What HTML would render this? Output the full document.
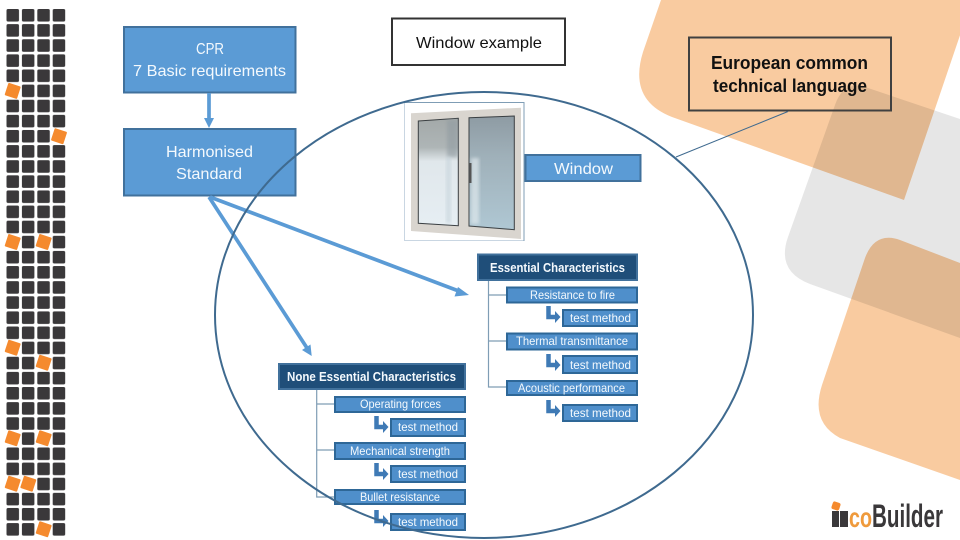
<!DOCTYPE html>
<html><head><meta charset="utf-8"><style>
html,body{margin:0;padding:0;background:#fff}
svg{display:block}
text{font-family:"Liberation Sans",sans-serif;fill:#f4f9fd}
.b{fill:#5b9bd5;stroke:#41719c;stroke-width:2}
.s{fill:#4f8fcb;stroke:#2e6797;stroke-width:2}
.d{fill:#1f4e79;stroke:#41719c;stroke-width:2}
.t14{font-size:16px}
.t10{font-size:12px}
.h{font-size:12.5px;font-weight:bold}
.k{fill:#111}
.c{fill:none;stroke:#7f9db5;stroke-width:1.2}
.a{fill:none;stroke:#5b9bd5;stroke-width:3.7}
.l{fill:none;stroke:#3f7ab5;stroke-width:4.5}
</style></head><body>
<svg xmlns="http://www.w3.org/2000/svg" width="960" height="540" viewBox="0 0 960 540">
<defs>
<pattern id="g" x="6.5" y="9" width="15.4" height="15.12" patternUnits="userSpaceOnUse"><rect x="0" y="0" width="12.5" height="12.6" rx="1.6" fill="#3a383a"/></pattern>
<linearGradient id="lp" x1="0" y1="0" x2="0" y2="1"><stop offset="0" stop-color="#a3a9a9"/><stop offset=".27" stop-color="#aeb5b6"/><stop offset=".4" stop-color="#e0e7eb"/><stop offset="1" stop-color="#e6eef3"/></linearGradient>
<linearGradient id="rp" x1="0" y1="0" x2="0" y2="1"><stop offset="0" stop-color="#8e9ba3"/><stop offset=".35" stop-color="#9fb0b9"/><stop offset="1" stop-color="#afc7d3"/></linearGradient>
<filter id="bl" x="-20%" y="-20%" width="140%" height="140%"><feGaussianBlur stdDeviation="1.5"/></filter>
</defs>

<g style="isolation:isolate">
<path d="M661,0 L643,52 Q628,100 672,117 L904,200 L972,0 Z" fill="#f9cba0"/>
<path d="M960,119 L868,88 Q844,79 835,105 L788,237 Q776,271 810,284 L960,338 Z" fill="#e6e6e6" style="mix-blend-mode:multiply"/>
<path d="M900,240 Q875,231 865,258 L822,385 Q810,422 840,438 L960,480 L960,263 Z" fill="#f9cba0" style="mix-blend-mode:multiply"/>
</g>

<rect x="6" y="8" width="62" height="530" fill="url(#g)"/>
<g fill="#fff">
<rect x="5.5" y="84" width="14" height="14"/>
<rect x="52" y="129" width="14" height="14"/>
<rect x="5.5" y="235" width="14" height="14"/>
<rect x="36.500" y="235" width="14" height="14"/>
<rect x="5.5" y="341" width="14" height="14"/>
<rect x="36.500" y="356" width="14" height="14"/>
<rect x="5.5" y="431" width="14" height="14"/>
<rect x="36.500" y="431" width="14" height="14"/>
<rect x="5.5" y="477" width="14" height="14"/>
<rect x="21" y="477" width="14" height="14"/>
<rect x="36.500" y="522" width="14" height="14"/>
</g>
<g fill="#f58a2e">
<rect x="6.2" y="84.4" width="13" height="13" rx="1" transform="rotate(18 12.7 90.9)"/>
<rect x="52.5" y="129.7" width="13" height="13" rx="1" transform="rotate(18 59 136.2)"/>
<rect x="6.2" y="235.5" width="13" height="13" rx="1" transform="rotate(18 12.7 242)"/>
<rect x="37.2" y="235.5" width="13" height="13" rx="1" transform="rotate(18 43.7 242)"/>
<rect x="6.2" y="341.2" width="13" height="13" rx="1" transform="rotate(18 12.7 347.7)"/>
<rect x="37.2" y="356.2" width="13" height="13" rx="1" transform="rotate(18 43.7 362.7)"/>
<rect x="6.2" y="431.8" width="13" height="13" rx="1" transform="rotate(18 12.7 438.3)"/>
<rect x="37.2" y="431.8" width="13" height="13" rx="1" transform="rotate(18 43.7 438.3)"/>
<rect x="6.2" y="477.2" width="13" height="13" rx="1" transform="rotate(18 12.7 483.7)"/>
<rect x="21.8" y="477.2" width="13" height="13" rx="1" transform="rotate(18 28.3 483.7)"/>
<rect x="37.2" y="522.8" width="13" height="13" rx="1" transform="rotate(18 43.7 529.3)"/>
</g>

<!-- window picture -->
<rect x="404.5" y="102.5" width="119.5" height="138" fill="#fff" stroke="#c9d6e2" stroke-width="1"/>
<path d="M404.5,102.5H524V241" fill="none" stroke="#7f9db5" stroke-width="1"/>
<polygon points="411,113.3 521,107.7 521,239 411,231" fill="#d9d5cf"/>
<polygon points="418.3,121 458.3,118.3 458.3,225.7 418.3,223.3" fill="url(#lp)" stroke="#3a3f42" stroke-width="1"/>
<rect x="447" y="120" width="10.5" height="37" fill="#8f9aa0" opacity=".55" filter="url(#bl)"/>
<rect x="446" y="157" width="5" height="66" fill="#c4d2da" opacity=".6" filter="url(#bl)"/>
<polygon points="469,117.7 514.3,116 514.3,229.7 469,226" fill="url(#rp)" stroke="#3a3f42" stroke-width="1"/>
<rect x="471" y="158" width="8" height="66" fill="#dfe8ec" opacity=".7" filter="url(#bl)"/>
<rect x="469.5" y="163" width="2" height="20" fill="#555"/>

<!-- boxes -->
<rect class="b" x="124" y="27" width="171.5" height="65.5"/>
<text class="t14" x="196" y="54" textLength="28" lengthAdjust="spacingAndGlyphs">CPR</text>
<text class="t14" x="133" y="76" textLength="153" lengthAdjust="spacingAndGlyphs">7 Basic requirements</text>
<rect class="b" x="124" y="129" width="171.5" height="66.5"/>
<text class="t14" x="166" y="157" textLength="87" lengthAdjust="spacingAndGlyphs">Harmonised</text>
<text class="t14" x="176" y="179" textLength="66" lengthAdjust="spacingAndGlyphs">Standard</text>

<rect x="392" y="18.500" width="173" height="46.500" fill="#fff" stroke="#333" stroke-width="2"/>
<text class="t14 k" x="416" y="48" textLength="126" lengthAdjust="spacingAndGlyphs">Window example</text>

<rect x="689" y="37.500" width="202" height="73" fill="none" stroke="#404040" stroke-width="2"/>
<text class="k" x="711" y="69" font-size="18" font-weight="bold" textLength="157" lengthAdjust="spacingAndGlyphs">European common</text>
<text class="k" x="713" y="92" font-size="18" font-weight="bold" textLength="154" lengthAdjust="spacingAndGlyphs">technical language</text>

<rect class="b" x="525.500" y="155" width="115" height="26"/>
<text class="t14" x="554" y="174" textLength="59" lengthAdjust="spacingAndGlyphs">Window</text>

<!-- essential -->
<path class="c" d="M488.500,281V387H506M488.500,295H506M488.500,341H506"/>
<rect class="d" x="478" y="254.500" width="159" height="25.500"/>
<text class="h" x="490" y="272" textLength="135" lengthAdjust="spacingAndGlyphs">Essential Characteristics</text>
<rect class="s" x="507" y="287.500" width="130" height="15"/>
<text class="t10" x="530" y="299" textLength="85" lengthAdjust="spacingAndGlyphs">Resistance to fire</text>
<rect class="s" x="563" y="310" width="74" height="16"/>
<text class="t10" x="570" y="322" textLength="61" lengthAdjust="spacingAndGlyphs">test method</text>
<rect class="s" x="507" y="333.500" width="130" height="16"/>
<text class="t10" x="516" y="345" textLength="112" lengthAdjust="spacingAndGlyphs">Thermal transmittance</text>
<rect class="s" x="563" y="356" width="74" height="17"/>
<text class="t10" x="570" y="369" textLength="61" lengthAdjust="spacingAndGlyphs">test method</text>
<rect class="s" x="507" y="381" width="130" height="14"/>
<text class="t10" x="518" y="392" textLength="107" lengthAdjust="spacingAndGlyphs">Acoustic performance</text>
<rect class="s" x="563" y="405" width="74" height="16"/>
<text class="t10" x="570" y="417" textLength="61" lengthAdjust="spacingAndGlyphs">test method</text>

<path class="l" d="M548.500,306V317H556"/><polygon points="555,311 560.500,317 555,323" fill="#3f7ab5"/>
<path class="l" d="M548.500,354V365H556"/><polygon points="555,359 560.500,365 555,371" fill="#3f7ab5"/>
<path class="l" d="M548.500,400V411H556"/><polygon points="555,405 560.500,411 555,417" fill="#3f7ab5"/>

<!-- none essential -->
<path class="c" d="M316.700,389V497H334M316.700,404H334M316.700,450H334"/>
<rect class="d" x="279" y="364" width="186" height="25"/>
<text class="h" x="287" y="381" textLength="169" lengthAdjust="spacingAndGlyphs">None Essential Characteristics</text>
<rect class="s" x="335" y="397" width="130" height="15"/>
<text class="t10" x="360" y="408" textLength="81" lengthAdjust="spacingAndGlyphs">Operating forces</text>
<rect class="s" x="391" y="419" width="74" height="17"/>
<text class="t10" x="398" y="431" textLength="60" lengthAdjust="spacingAndGlyphs">test method</text>
<rect class="s" x="335" y="443" width="130" height="16"/>
<text class="t10" x="350" y="455" textLength="100" lengthAdjust="spacingAndGlyphs">Mechanical strength</text>
<rect class="s" x="391" y="466" width="74" height="16"/>
<text class="t10" x="398" y="478" textLength="60" lengthAdjust="spacingAndGlyphs">test method</text>
<rect class="s" x="335" y="490" width="130" height="14"/>
<text class="t10" x="360" y="501" textLength="80" lengthAdjust="spacingAndGlyphs">Bullet resistance</text>
<rect class="s" x="391" y="514" width="74" height="16"/>
<text class="t10" x="398" y="526" textLength="60" lengthAdjust="spacingAndGlyphs">test method</text>

<path class="l" d="M376.500,416V427H384"/><polygon points="383,421 388.500,427 383,433" fill="#3f7ab5"/>
<path class="l" d="M376.500,463V474H384"/><polygon points="383,468 388.500,474 383,480" fill="#3f7ab5"/>
<path class="l" d="M376.500,510V521H384"/><polygon points="383,515 388.500,521 383,527" fill="#3f7ab5"/>

<!-- arrows -->
<line class="a" x1="209" y1="93" x2="209" y2="119"/>
<polygon points="204,118 214,118 209,128" fill="#5b9bd5"/>
<line class="a" x1="209" y1="197" x2="307" y2="348"/>
<polygon points="302,350 310.500,344.500 311.700,356" fill="#5b9bd5"/>
<line class="a" x1="210" y1="197" x2="460" y2="291.500"/>
<polygon points="458,287 454.500,296.500 469,295" fill="#5b9bd5"/>

<!-- ellipse and callout -->
<ellipse cx="484" cy="315" rx="269" ry="223" fill="none" stroke="#3f6a8f" stroke-width="2"/>
<line x1="676" y1="157" x2="788" y2="111.500" stroke="#3f6a8f" stroke-width="1"/>

<!-- logo -->
<rect x="832" y="502" width="8" height="8" rx="2" fill="#f58a2e" transform="rotate(18 836 506)"/>
<rect x="832" y="511" width="7" height="16" fill="#3a383a"/>
<rect x="840" y="511" width="8" height="16" fill="#3a383a"/>
<text x="849" y="527" font-size="28" font-weight="bold" style="fill:#ef9a3c" textLength="23" lengthAdjust="spacingAndGlyphs">co</text>
<text x="872" y="527" font-size="32" font-weight="bold" style="fill:#3a383a" textLength="71" lengthAdjust="spacingAndGlyphs">Builder</text>
</svg>
</body></html>
